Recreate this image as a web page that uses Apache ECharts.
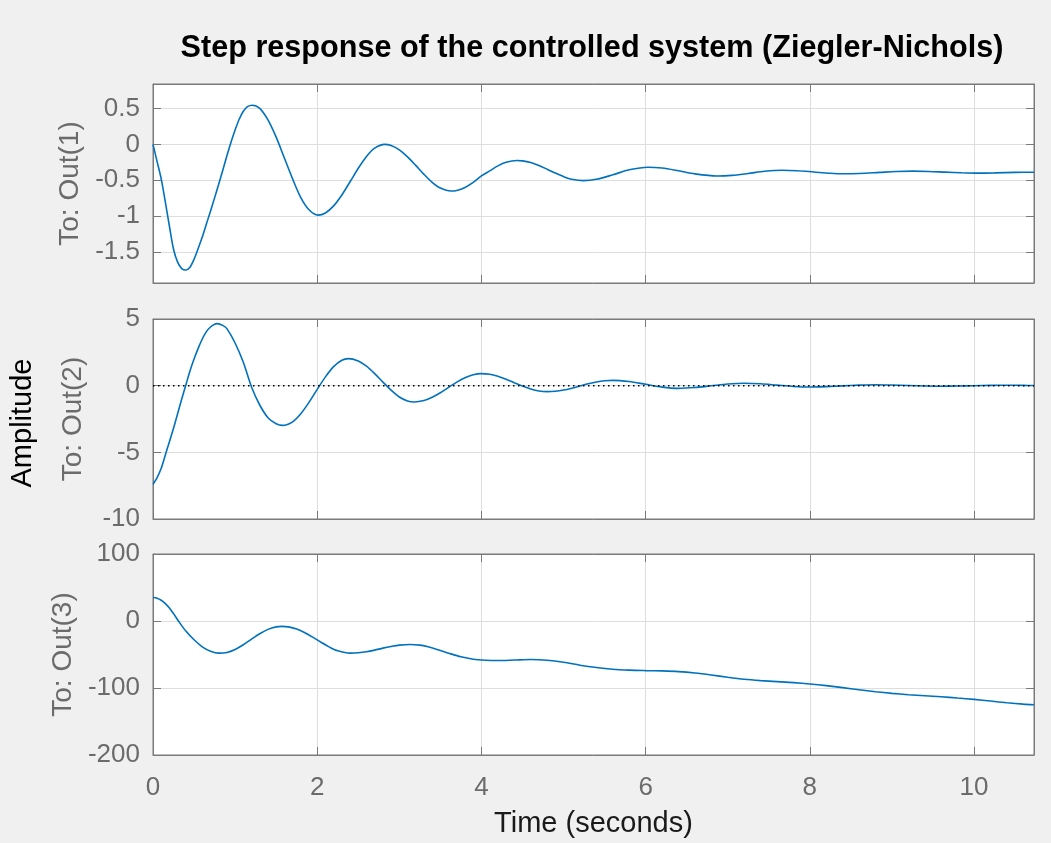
<!DOCTYPE html>
<html>
<head>
<meta charset="utf-8">
<script src="https://cdn.jsdelivr.net/npm/echarts@6/dist/echarts.min.js"></script>
<style>
  html, body { margin: 0; padding: 0; background: #f0f0f0; }
  #chart { width: 1051px; height: 843px; }
</style>
</head>
<body>
<div id="chart"></div>
<script>
// Step response of the PID-controlled plant, three outputs.
const titleText = 'Step response of the controlled system (Ziegler-Nichols)';
const outputNames = ['To: Out(1)', 'To: Out(2)', 'To: Out(3)'];
const timeLabel = 'Time (seconds)';
const amplitudeLabel = 'Amplitude';

const timeMax = 10.73;
const timeTicks = [0, 2, 4, 6, 8, 10];

// Out(1)
const time1 = [0, 0.05, 0.1, 0.15, 0.2, 0.25, 0.3, 0.35, 0.4, 0.45, 0.5, 0.55, 0.6, 0.65, 0.7, 0.75, 0.8, 0.85, 0.9, 0.95, 1.0, 1.05, 1.1, 1.15, 1.21, 1.3, 1.4, 1.5, 1.6, 1.7, 1.8, 1.9, 2.01, 2.1, 2.2, 2.3, 2.4, 2.5, 2.6, 2.7, 2.82, 2.9, 3.0, 3.1, 3.2, 3.3, 3.4, 3.5, 3.63, 3.7, 3.8, 3.9, 4.0, 4.1, 4.2, 4.3, 4.43, 4.5, 4.6, 4.7, 4.8, 4.9, 5.0, 5.1, 5.24, 5.4, 5.6, 5.8, 6.03, 6.2, 6.4, 6.6, 6.87, 7.05, 7.25, 7.45, 7.66, 7.85, 8.05, 8.25, 8.41, 8.6, 8.85, 9.05, 9.26, 9.45, 9.65, 9.85, 10.03, 10.25, 10.5, 10.73];
const out1 = [0, -0.24, -0.48, -0.8, -1.14, -1.46, -1.64, -1.73, -1.75, -1.71, -1.6, -1.45, -1.29, -1.11, -0.93, -0.745, -0.555, -0.36, -0.16, 0.03, 0.2, 0.35, 0.46, 0.525, 0.545, 0.5, 0.34, 0.1, -0.19, -0.48, -0.74, -0.91, -0.985, -0.955, -0.857, -0.705, -0.521, -0.333, -0.168, -0.053, 0, -0.016, -0.076, -0.174, -0.293, -0.418, -0.529, -0.609, -0.65, -0.642, -0.6, -0.53, -0.44, -0.37, -0.3, -0.25, -0.225, -0.23, -0.254, -0.295, -0.346, -0.4, -0.448, -0.485, -0.505, -0.487, -0.424, -0.354, -0.318, -0.33, -0.368, -0.411, -0.44, -0.432, -0.405, -0.375, -0.36, -0.367, -0.385, -0.403, -0.41, -0.405, -0.39, -0.378, -0.373, -0.377, -0.387, -0.396, -0.4, -0.397, -0.39, -0.388];
const ticks1 = [-1.5, -1, -0.5, 0, 0.5];

// Out(2)
const time2 = [0, 0.05, 0.1, 0.15, 0.2, 0.25, 0.3, 0.35, 0.4, 0.45, 0.5, 0.55, 0.6, 0.65, 0.7, 0.75, 0.78, 0.85, 0.9, 1.0, 1.1, 1.2, 1.3, 1.4, 1.5, 1.58, 1.7, 1.8, 1.9, 2.0, 2.1, 2.2, 2.3, 2.38, 2.5, 2.6, 2.7, 2.8, 2.9, 3.0, 3.1, 3.18, 3.3, 3.4, 3.5, 3.6, 3.7, 3.8, 3.9, 4.0, 4.1, 4.2, 4.3, 4.4, 4.5, 4.6, 4.7, 4.8, 4.9, 5.0, 5.1, 5.2, 5.3, 5.4, 5.5, 5.6, 5.8, 6.0, 6.2, 6.4, 6.6, 6.8, 7.0, 7.2, 7.4, 7.6, 7.8, 8.0, 8.2, 8.4, 8.6, 8.8, 9.0, 9.2, 9.4, 9.6, 9.8, 10.0, 10.2, 10.4, 10.6, 10.73];
const out2 = [-7.4, -6.9, -6.2, -5.2, -4.2, -3.2, -2.1, -1.0, 0.05, 1.1, 2.0, 2.8, 3.5, 4.05, 4.4, 4.6, 4.65, 4.52, 4.28, 3.2, 1.75, -0.1, -1.45, -2.4, -2.85, -2.98, -2.71, -2.1, -1.25, -0.28, 0.66, 1.43, 1.91, 2.03, 1.85, 1.46, 0.9, 0.27, -0.34, -0.85, -1.15, -1.23, -1.12, -0.87, -0.53, -0.13, 0.27, 0.6, 0.82, 0.9, 0.85, 0.7, 0.48, 0.225, -0.03, -0.25, -0.4, -0.45, -0.42, -0.33, -0.19, -0.025, 0.14, 0.28, 0.37, 0.4, 0.31, 0.1, -0.11, -0.2, -0.14, -0.01, 0.12, 0.18, 0.14, 0.04, -0.06, -0.1, -0.07, -0.015, 0.04, 0.07, 0.05, 0.015, -0.02, -0.04, -0.03, -0.005, 0.02, 0.03, 0.02, 0.01];
const ticks2 = [-10, -5, 0, 5];
const finalValue2 = 0;

// Out(3)
const time3 = [0, 0.05, 0.1, 0.15, 0.2, 0.25, 0.31, 0.4, 0.5, 0.6, 0.7, 0.8, 0.9, 1.0, 1.1, 1.2, 1.3, 1.4, 1.5, 1.57, 1.65, 1.75, 1.85, 1.95, 2.05, 2.15, 2.25, 2.4, 2.5, 2.6, 2.7, 2.8, 2.9, 3.0, 3.13, 3.25, 3.35, 3.45, 3.6, 3.75, 3.9, 4.05, 4.2, 4.4, 4.6, 4.8, 5.0, 5.2, 5.4, 5.6, 5.8, 6.0, 6.2, 6.4, 6.6, 6.8, 7.0, 7.2, 7.4, 7.6, 7.8, 8.0, 8.2, 8.4, 8.6, 8.8, 9.0, 9.2, 9.4, 9.6, 9.8, 10.0, 10.2, 10.4, 10.6, 10.73];
const out3 = [35, 34, 31, 26, 19.5, 11, 0, -15, -28, -38.5, -45, -48, -47, -42.5, -35.5, -27, -19, -12.5, -8.8, -8, -8.8, -12, -17.5, -24.5, -32, -39, -44.5, -48, -47.5, -46, -43.5, -40.5, -38, -36, -35, -36, -38.5, -42, -48, -53.5, -57, -58.5, -59, -58.3, -57.5, -58.5, -61.5, -66, -69.5, -72, -73.3, -74, -74.5, -75.5, -77.5, -80.5, -84, -87, -89, -90.5, -92, -94, -96.5, -99.5, -102.5, -105.5, -108, -110, -111.5, -113, -115, -117, -119.5, -122, -124, -125];
const ticks3 = [-200, -100, 0, 100];

const yRanges = [[-1.93, 0.84], [-10, 5], [-200, 100]];
const yTicks = [ticks1, ticks2, ticks3];
const series = [[time1, out1], [time2, out2], [time3, out3]];

const FONT = '"Liberation Sans", Arial, Helvetica, sans-serif';
const AXIS_GRAY = '#7a7a7a';
const LABEL_GRAY = '#6b6b6b';
const GRID_GRAY = '#dedede';
const LINE_BLUE = '#0072bd';

const gridTops = [84, 319, 554];
const gridHeights = [199, 200, 201];

const zip = (xs, ys) => xs.map((x, i) => [x, ys[i]]);

const grids = [], xAxes = [], yAxes = [], seriesList = [];

for (let i = 0; i < 3; i++) {
  grids.push({
    left: 153, right: 17, top: gridTops[i], height: gridHeights[i],
    show: true, backgroundColor: '#ffffff', borderColor: AXIS_GRAY, borderWidth: 1
  });
  const isBottom = i === 2;
  // bottom time axis
  xAxes.push({
    type: 'value', gridIndex: i, min: 0, max: timeMax, position: 'bottom',
    axisLine: { show: true, onZero: false, lineStyle: { color: AXIS_GRAY, width: 1 } },
    axisTick: { show: true, inside: true, length: 8, customValues: timeTicks, lineStyle: { color: AXIS_GRAY } },
    axisLabel: { show: isBottom, customValues: timeTicks, margin: 20, color: LABEL_GRAY, fontSize: 26, fontFamily: FONT },
    splitLine: { show: true, lineStyle: { color: GRID_GRAY, width: 1 } },
    name: isBottom ? timeLabel : '', nameLocation: 'middle', nameGap: 54,
    nameTextStyle: { color: '#1a1a1a', fontSize: 29, fontFamily: FONT }
  });
  // left amplitude axis
  yAxes.push({
    type: 'value', gridIndex: i, min: yRanges[i][0], max: yRanges[i][1], position: 'left',
    axisLine: { show: true, onZero: false, lineStyle: { color: AXIS_GRAY, width: 1 } },
    axisTick: { show: true, inside: true, length: 8, customValues: yTicks[i], lineStyle: { color: AXIS_GRAY } },
    axisLabel: { show: true, customValues: yTicks[i], margin: 13, color: LABEL_GRAY, fontSize: 26, fontFamily: FONT },
    splitLine: { show: true, lineStyle: { color: GRID_GRAY, width: 1 } },
    name: outputNames[i], nameLocation: 'middle', nameGap: 66,
    nameTextStyle: { color: LABEL_GRAY, fontSize: 28, fontFamily: FONT }
  });
}
// box ticks on the top and right edges
for (let i = 0; i < 3; i++) {
  xAxes.push({
    type: 'value', gridIndex: i, min: 0, max: timeMax, position: 'top',
    axisLine: { show: true, onZero: false, lineStyle: { color: AXIS_GRAY, width: 1 } },
    axisTick: { show: true, inside: true, length: 8, customValues: timeTicks, lineStyle: { color: AXIS_GRAY } },
    axisLabel: { show: false }, splitLine: { show: false }
  });
  yAxes.push({
    type: 'value', gridIndex: i, min: yRanges[i][0], max: yRanges[i][1], position: 'right',
    axisLine: { show: true, onZero: false, lineStyle: { color: AXIS_GRAY, width: 1 } },
    axisTick: { show: true, inside: true, length: 8, customValues: yTicks[i], lineStyle: { color: AXIS_GRAY } },
    axisLabel: { show: false }, splitLine: { show: false }
  });
}

for (let i = 0; i < 3; i++) {
  seriesList.push({
    type: 'line', xAxisIndex: i, yAxisIndex: i,
    data: zip(series[i][0], series[i][1]),
    smooth: 0.3, showSymbol: false, symbol: 'none',
    lineStyle: { color: LINE_BLUE, width: 1.6 },
    z: 3, animation: false
  });
}
// steady-state reference for Out(2)
seriesList.push({
  type: 'line', xAxisIndex: 1, yAxisIndex: 1,
  data: [[0, finalValue2], [timeMax, finalValue2]],
  showSymbol: false, symbol: 'none',
  lineStyle: { color: '#000000', width: 1.5, type: [1.5, 3.5] },
  z: 4, animation: false
});

const chart = echarts.init(document.getElementById('chart'), null, { renderer: 'canvas' });
chart.setOption({
  backgroundColor: '#f0f0f0',
  animation: false,
  grid: grids,
  xAxis: xAxes,
  yAxis: yAxes,
  series: seriesList,
  graphic: [
    {
      type: 'text', x: 592, y: 49,
      style: { text: titleText, fontSize: 30.6, fontWeight: 'bold', fontFamily: FONT, fill: '#000000', align: 'center', verticalAlign: 'middle' }
    },
    {
      type: 'text', x: 23, y: 423, rotation: Math.PI / 2,
      style: { text: amplitudeLabel, fontSize: 29, fontFamily: FONT, fill: '#000000', align: 'center', verticalAlign: 'middle' }
    }
  ]
});
</script>
</body>
</html>
